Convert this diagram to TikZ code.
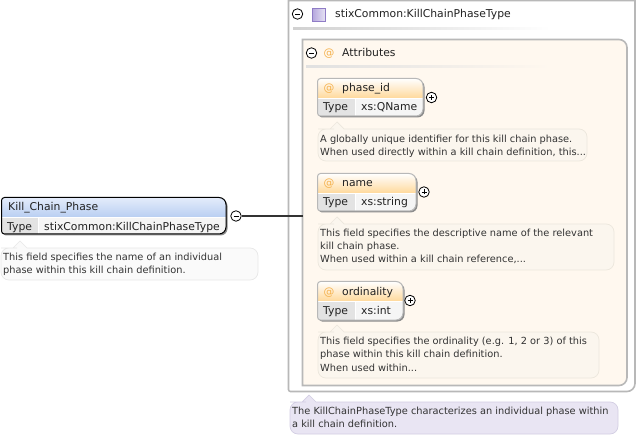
\documentclass[tikz,border=0pt]{standalone}
\usepackage{fontspec}
\setmainfont{DejaVu Sans}
\usetikzlibrary{calc}
\definecolor{txt}{HTML}{222222}
\definecolor{notetxt}{HTML}{333333}
\definecolor{grayline}{HTML}{B8B8B8}
\definecolor{cream}{HTML}{FFF8EF}
\definecolor{orangeat}{HTML}{F5B24E}
\definecolor{attrbot}{HTML}{FFD99C}
\definecolor{blutop}{HTML}{E4ECFB}
\definecolor{blubot}{HTML}{B9CFF2}
\definecolor{notecream}{HTML}{FBF6EE}
\definecolor{notecreamb}{HTML}{ECE7DD}
\definecolor{notelav}{HTML}{E9E5F3}
\definecolor{notelavb}{HTML}{D3CEE3}
\definecolor{notegray}{HTML}{FAFAFA}
\definecolor{notegrayb}{HTML}{E8E8E8}
\definecolor{iconlight}{HTML}{E6E2F4}
\definecolor{icondark}{HTML}{B3A5DC}
\definecolor{iconb}{HTML}{8F7CC6}
\tikzset{
  x=1pt,y=-1pt,
  lab/.style={inner sep=0pt,anchor=base west,text=txt,font=\fontsize{10.8}{12}\selectfont},
  notetext/.style={inner sep=0pt,anchor=north west,align=left,text=notetxt,font=\fontsize{9.8}{13.3}\selectfont},
  atsign/.style={inner sep=0pt,anchor=base,text=orangeat,font=\fontsize{10.8}{12}\selectfont},
  circ/.style={circle,draw=black,line width=.8pt,fill=white,minimum size=10.5pt,inner sep=0pt},
  minussign/.style={circ,path picture={\draw[line width=.8pt] ([xshift=-2.5pt]path picture bounding box.center) -- ([xshift=2.5pt]path picture bounding box.center);}},
  plussign/.style={circ,path picture={\draw[line width=.8pt] ([xshift=-2.5pt]path picture bounding box.center) -- ([xshift=2.5pt]path picture bounding box.center) ([yshift=-2.5pt]path picture bounding box.center) -- ([yshift=2.5pt]path picture bounding box.center);}},
}
% #1 x1 #2 y1 #3 x2 #4 y2 #5 tip x #6 fill #7 border
\newcommand{\notebox}[7]{%
  \draw[draw=#7,fill=#6,line width=.7pt]
    (#1+8,#2) -- (#5-7,#2) -- (#5,#2-7) -- (#5+7,#2)
    [rounded corners=8pt] -- (#3,#2) -- (#3,#4) -- (#1,#4) -- (#1,#2) -- cycle;
}
\newcommand{\elempath}[4]{%
  (#1+10,#2) [rounded corners=7pt] -- (#3,#2) -- (#3,#4) [rounded corners=3pt] -- (#1,#4) -- (#1,#2) -- cycle}
% #1 x1 #2 y1 #3 x2 #4 y2 #5 split y #6 split x #7 top colour #8 bottom colour #9 border
\newcommand{\elembox}[9]{%
  \fill[black!45] \elempath{#1+1.5}{#2+1.5}{#3+1.5}{#4+1.5};
  \begin{scope}
    \clip \elempath{#1}{#2}{#3}{#4};
    \fill[white] (#1,#2) rectangle (#3,#4);
    \shade[top color=#7,bottom color=#8] (#1,#2) rectangle (#3,#5);
    \fill[black!11] (#1,#5+1) rectangle (#6,#4);
    \fill[black!4] (#6+1,#5+1) rectangle (#3,#4);
  \end{scope}
  \draw[draw=#9,line width=1pt] \elempath{#1}{#2}{#3}{#4};
}
\begin{document}
\begin{tikzpicture}
\useasboundingbox (0,0) rectangle (637,438);
\fill[white] (0,0) rectangle (637,438);
% outer type box
\draw[draw=grayline,line width=1.6pt,fill=white]
  (288.5,0.6) -- (635,0.6) [rounded corners=8pt] -- (635,391.5) [rounded corners=2pt] -- (288.5,391.5) [sharp corners] -- cycle;
\node[minussign] (typeminus) at (297.5,14) {};
\shade[left color=icondark,right color=iconlight,draw=iconb,line width=.8pt] (312,8.5) rectangle (325,21);
\node[lab] (typename) at (335,18) {stixCommon:KillChainPhaseType};
\shade[left color=black!18,right color=white] (293,27.5) rectangle (550,29.5);
% attributes box
\draw[draw=grayline,line width=1.6pt,fill=cream]
  (302.5,39.5) [rounded corners=8pt] -- (627,39.5) -- (627,385.5) [sharp corners] -- (302.5,385.5) -- cycle;
\coordinate (attrwest) at (302.5,216);
\node[minussign] (attrminus) at (311.5,53) {};
\node[atsign] (attrat) at (329,57) {@};
\node[lab] (attrname) at (342,57) {Attributes};
\shade[left color=black!12,right color=cream] (306,65.5) rectangle (550,67.5);
% phase_id
\elembox{317.5}{78.5}{423}{116}{98}{355}{white}{attrbot}{grayline}
\node[atsign] (at1) at (329,92) {@};
\node[lab] (n1) at (342,92) {phase\_id};
\node[lab] (t1) at (323,111) {Type};
\node[lab] (v1) at (361,111) {xs:QName};
\node[plussign] (p1) at (431.5,97.5) {};
\notebox{318}{129}{587}{161}{337}{notecream}{notecreamb}
\node[notetext] (d1) at (320,134.5) {A globally unique identifier for this kill chain phase.\\When used directly within a kill chain definition, this...};
% name
\elembox{317.5}{173.5}{416}{211}{193}{355}{white}{attrbot}{grayline}
\node[atsign] (at2) at (329,187) {@};
\node[lab] (n2) at (342,187) {name};
\node[lab] (t2) at (323,206) {Type};
\node[lab] (v2) at (361,206) {xs:string};
\node[plussign] (p2) at (424,192) {};
\notebox{318}{224}{614}{270}{337}{notecream}{notecreamb}
\node[notetext] (d2) at (320,228.5) {This field specifies the descriptive name of the relevant\\kill chain phase.\\When used within a kill chain reference,...};
% ordinality
\elembox{317.5}{281.5}{403}{320}{301}{355}{white}{attrbot}{grayline}
\node[atsign] (at3) at (329,295) {@};
\node[lab] (n3) at (342,295) {ordinality};
\node[lab] (t3) at (323,314.5) {Type};
\node[lab] (v3) at (361,314.5) {xs:int};
\node[plussign] (p3) at (410,300.5) {};
\notebox{318}{332}{599}{378}{337}{notecream}{notecreamb}
\node[notetext] (d3) at (320,337) {This field specifies the ordinality (e.g. 1, 2 or 3) of this\\phase within this kill chain definition.\\When used within...};
% type note
\notebox{290}{402}{618}{434}{309}{notelav}{notelavb}
\node[notetext] (d4) at (292,407) {The KillChainPhaseType characterizes an individual phase within\\a kill chain definition.};
% Kill chain phase element
\elembox{1.5}{197.5}{226}{234}{217}{38}{blutop}{blubot}{black}
\node[lab] (kname) at (8,211) {Kill\_Chain\_Phase};
\node[lab] (ktype) at (7,230.5) {Type};
\node[lab] (kval) at (44,230.5) {stixCommon:KillChainPhaseType};
\node[minussign] (kminus) at (236,216) {};
\draw[line width=1.4pt,draw=black!80] (kminus) -- (attrwest);
\notebox{1}{248}{258}{280}{20}{notegray}{notegrayb}
\node[notetext] (kd) at (3,253) {This field specifies the name of an individual\\phase within this kill chain definition.};
\end{tikzpicture}
\end{document}
